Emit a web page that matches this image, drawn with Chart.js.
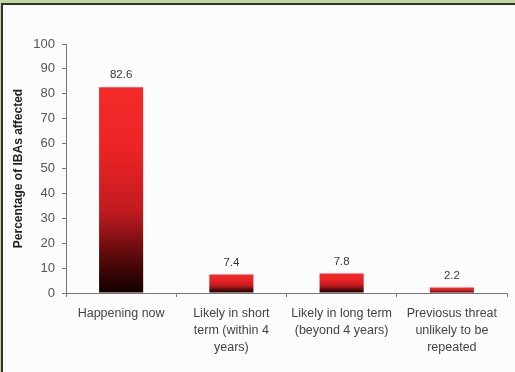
<!DOCTYPE html>
<html>
<head>
<meta charset="utf-8">
<script src="https://cdn.jsdelivr.net/npm/chart.js@4"></script>
<style>
  html, body { margin: 0; padding: 0; }
  body { width: 515px; height: 372px; background: #c4d79e; overflow: hidden; position: relative; }
  #frame {
    position: absolute; left: 1px; top: 3px; width: 514px; height: 369px;
    border-left: 2px solid #333; border-top: 2px solid #333;
    background: #fcfcfc;
  }
  canvas { display: block; }
</style>
</head>
<body>
<div id="frame"><canvas id="threatChart" width="512" height="367"></canvas></div>
<script>
const categories = [
  "Happening now",
  ["Likely in short", "term (within 4", "years)"],
  ["Likely in long term", "(beyond 4 years)"],
  ["Previosus threat", "unlikely to be", "repeated"]
];
const percentAffected = [82.6, 7.4, 7.8, 2.2];
const yTicks = [0, 10, 20, 30, 40, 50, 60, 70, 80, 90, 100];

// red-to-black fade, stretched over each bar's own height
function barFill(context) {
  const chart = context.chart;
  if (!chart.chartArea) return "#d21f22";
  const y = chart.scales.y;
  const top = y.getPixelForValue(context.raw);
  const bottom = y.getPixelForValue(0);
  const g = chart.ctx.createLinearGradient(0, top, 0, bottom);
  g.addColorStop(0, "#f42a2a");
  g.addColorStop(0.3, "#ec2426");
  g.addColorStop(0.6, "#c21b20");
  g.addColorStop(0.85, "#4e0809");
  g.addColorStop(1, "#120000");
  return g;
}

const valueLabels = {
  id: "valueLabels",
  afterDatasetsDraw(chart) {
    const ctx = chart.ctx;
    ctx.save();
    ctx.font = "11.5px 'Liberation Sans', Arial, sans-serif";
    ctx.fillStyle = "#3a3a3a";
    ctx.textAlign = "center";
    ctx.textBaseline = "middle";
    chart.getDatasetMeta(0).data.forEach((bar, i) => {
      ctx.fillText(String(percentAffected[i]), bar.x, bar.y - 12);
    });
    ctx.restore();
  }
};

const ctx = document.getElementById("threatChart").getContext("2d");

new Chart(ctx, {
  type: "bar",
  data: {
    labels: categories,
    datasets: [{
      data: percentAffected,
      backgroundColor: barFill,
      borderWidth: 0,
      barPercentage: 0.4,
      categoryPercentage: 1
    }]
  },
  options: {
    responsive: false,
    animation: false,
    layout: { padding: { top: 39, right: 8, left: 0, bottom: 0 } },
    plugins: {
      legend: { display: false },
      tooltip: { enabled: false }
    },
    scales: {
      x: {
        grid: { display: true, drawOnChartArea: false, drawTicks: true, tickLength: 4, color: "#777", offset: true },
        border: { display: true, color: "#777", width: 1 },
        ticks: {
          color: "#444",
          padding: 8,
          maxRotation: 0,
          autoSkip: false,
          font: { family: "'Liberation Sans', Arial, sans-serif", size: 12.5, lineHeight: 1.35 }
        },
        afterFit(scale) { scale.height = 79; }
      },
      y: {
        min: 0,
        max: 100,
        afterBuildTicks(scale) { scale.ticks = yTicks.map(v => ({ value: v })); },
        grid: { display: true, drawOnChartArea: false, drawTicks: true, tickLength: 4, color: "#777" },
        border: { display: true, color: "#777", width: 1 },
        ticks: {
          color: "#555",
          padding: 7,
          font: { family: "'Liberation Sans', Arial, sans-serif", size: 13 }
        },
        title: {
          display: true,
          text: "Percentage of IBAs affected",
          color: "#222",
          padding: { top: 8, bottom: 0 },
          font: { family: "'Liberation Sans', Arial, sans-serif", size: 12, weight: "bold" }
        },
        afterFit(scale) { scale.width = 63; }
      }
    }
  },
  plugins: [valueLabels]
});
</script>
</body>
</html>
